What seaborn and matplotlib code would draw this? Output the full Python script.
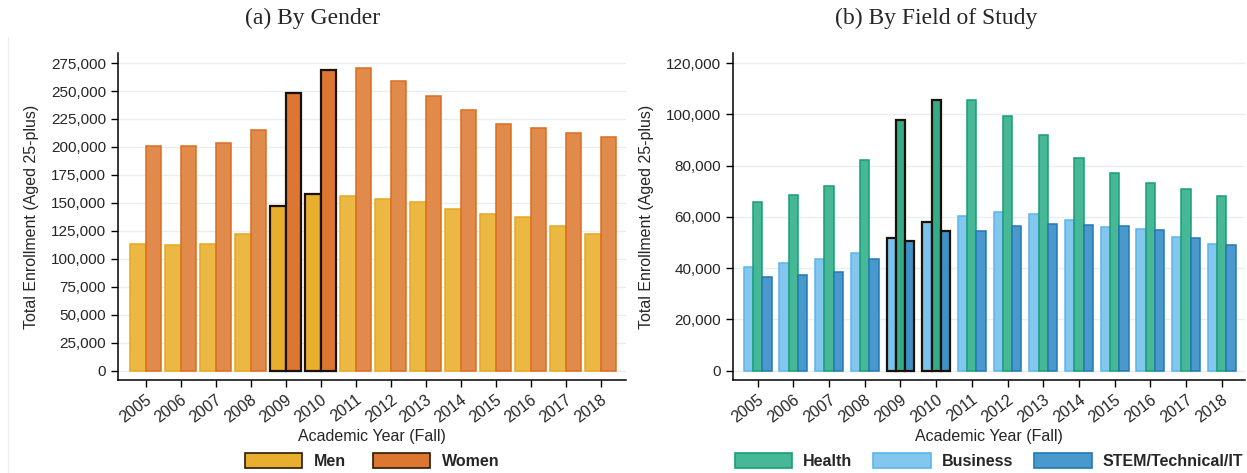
import pandas as pd
import numpy as np
import seaborn as sns
import matplotlib.pyplot as plt
from matplotlib.patches import Patch
from matplotlib.lines import Line2D
from matplotlib.ticker import FuncFormatter

years = ['2005', '2006', '2007', '2008', '2009', '2010', '2011',
         '2012', '2013', '2014', '2015', '2016', '2017', '2018']
men = [113500, 112600, 113500, 122500, 147000, 158300, 156500,
       153800, 150500, 144900, 140400, 137700, 129600, 122500]
women = [200400, 200400, 203100, 214700, 248200, 268500, 270300,
         259000, 245800, 232600, 220100, 216500, 212900, 209300]
health = [65600, 68600, 72100, 82300, 97700, 105700, 105500,
          99500, 92100, 83100, 77200, 73300, 71000, 68200]
business = [40400, 42100, 43600, 45700, 51800, 57900, 60400,
            62000, 61200, 58900, 56100, 55300, 52300, 49500]
stem = [36500, 37400, 38500, 43600, 50500, 54600, 54600,
        56300, 57300, 56900, 56500, 54800, 51800, 48900]
highlight = ['2009', '2010']

gender = pd.DataFrame({'year': years * 2,
                       'group': ['Men'] * 14 + ['Women'] * 14,
                       'enroll': men + women})
field = pd.DataFrame({'year': years * 3,
                      'group': ['Business'] * 14 + ['Health'] * 14 + ['STEM/Technical/IT'] * 14,
                      'enroll': business + health + stem})

# fill, edge, highlighted fill
colors = {'Men': ('#ECB844', '#E9A620', '#E8AE2E'),
          'Women': ('#E08A4C', '#DC6C1C', '#DD7630'),
          'Health': ('#47B895', '#199E78', '#34AC87'),
          'Business': ('#84C7EE', '#5CB5EA', '#7BC2EC'),
          'STEM/Technical/IT': ('#4A99CC', '#2378B5', '#3F90C6')}

sns.set_style('white')
plt.rcParams['font.family'] = ['Liberation Sans', 'DejaVu Sans']

fig = plt.figure(figsize=(12.47, 4.73), dpi=100)
ax1 = fig.add_axes([0.0946, 0.1966, 0.4074, 0.6913])
ax2 = fig.add_axes([0.5878, 0.1966, 0.4106, 0.6913])


def style_bars(ax, order):
    for name, cont in zip(order, ax.containers):
        fill, edge, hi = colors[name]
        for yr, bar in zip(years, cont):
            if yr in highlight:
                bar.set_facecolor(hi)
                bar.set_edgecolor('#1a1208')
                bar.set_linewidth(1.6)
            else:
                bar.set_facecolor(fill)
                bar.set_edgecolor(edge)
                bar.set_linewidth(1.1)


def style_axes(ax, ticks, ylim, xlim):
    ax.set_ylim(*ylim)
    ax.set_xlim(*xlim)
    ax.set_yticks(ticks)
    ax.yaxis.set_major_formatter(FuncFormatter(lambda v, p: f'{int(v):,}'))
    ax.grid(axis='y', color='#E6EEF0', linewidth=1)
    ax.set_axisbelow(True)
    for s in ['top', 'right']:
        ax.spines[s].set_visible(False)
    for s in ['left', 'bottom']:
        ax.spines[s].set_color('black')
        ax.spines[s].set_linewidth(1.1)
    ax.tick_params(axis='both', direction='out', length=5, width=1,
                   color='black', labelsize=11, left=True, bottom=True)
    ax.tick_params(axis='x', labelsize=11.5)
    plt.setp(ax.get_xticklabels(), rotation=37, ha='right', rotation_mode='anchor')
    ax.set_xlabel('Academic Year (Fall)', fontsize=11.5, labelpad=3)
    ax.set_ylabel('Total Enrollment (Aged 25-plus)', fontsize=11.5, labelpad=9)


order1 = ['Men', 'Women']
sns.barplot(data=gender, x='year', y='enroll', hue='group', hue_order=order1,
            order=years, width=0.88, legend=False, ax=ax1, saturation=1)
style_bars(ax1, order1)
style_axes(ax1, np.arange(0, 275001, 25000), (-8500, 284000), (-0.79, 13.72))

order2 = ['Business', 'Health', 'STEM/Technical/IT']
sns.barplot(data=field, x='year', y='enroll', hue='group', hue_order=order2,
            order=years, width=0.78, legend=False, ax=ax2, saturation=1)
style_bars(ax2, order2)
style_axes(ax2, np.arange(0, 120001, 20000), (-3700, 123900), (-0.69, 13.65))

h1 = [Patch(facecolor=colors[n][2], edgecolor='#2a1a08', linewidth=1.2, label=n) for n in order1]
ax1.legend(handles=h1, loc='center', bbox_to_anchor=(0.5, -0.248), ncol=2, frameon=False,
           prop={'weight': 'bold', 'size': 11.5}, handlelength=3.6, handleheight=1.1,
           handletextpad=0.7, columnspacing=1.7)

leg_order = ['Health', 'Business', 'STEM/Technical/IT']
h2 = [Patch(facecolor=colors[n][0], edgecolor=colors[n][1], linewidth=1.2, label=n) for n in leg_order]
ax2.legend(handles=h2, loc='center', bbox_to_anchor=(0.5, -0.248), ncol=3, frameon=False,
           prop={'weight': 'bold', 'size': 11.5}, handlelength=3.6, handleheight=1.1,
           handletextpad=0.7, columnspacing=1.3)

fig.text(0.251, 0.962, '(a) By Gender', ha='center', va='center',
         fontsize=17, family='Liberation Serif')
fig.text(0.751, 0.962, '(b) By Field of Study', ha='center', va='center',
         fontsize=17, family='Liberation Serif')

# faint graph-region border on the left panel
fig.add_artist(Line2D([8 / 1247, 8 / 1247], [0, (473 - 37) / 473],
                      color='#EDF1F3', linewidth=1, transform=fig.transFigure))

fig.savefig('out.png', dpi=100)
